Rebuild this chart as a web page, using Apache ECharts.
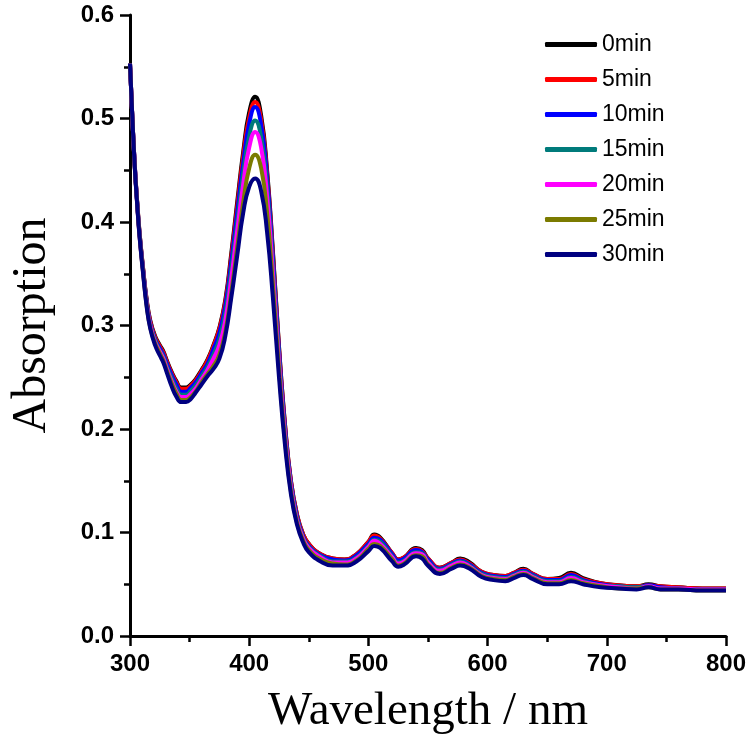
<!DOCTYPE html>
<html>
<head>
<meta charset="utf-8">
<script src="https://cdn.jsdelivr.net/npm/echarts@6/dist/echarts.min.js"></script>
<style>
  html, body { margin: 0; padding: 0; background: #fff; }
  #chart { width: 749px; height: 747px; }
</style>
</head>
<body>
<div id="chart"></div>
<script>
// wavelength (nm) sample points
var wavelength = [300,302,304,306,308,311,314,317,321,325,328,331,335,339,343,347,351,355,
  360,365,370,375,380,385,390,395,400,405,410,415,420,425,430,435,440,445,450,460,470,480,490,500,505,510,520,525,530,540,545,550,560,570,577,585,595,605,615,622,630,638,650,660,670,680,695,710,725,735,745,760,780,800];

var seriesNames = ['0min','5min','10min','15min','20min','25min','30min'];
var seriesColors = ['#000000','#ff0000','#0000ff','#007b7b','#ff00ff','#7b7b00','#000080'];

// absorption, one array per time
var abs0 = [.553,.50,.455,.42,.39,.355,.325,.305,.29,.281,.275,.266,.255,.246,.240,.240,.243,.248,
  .257,.267,.281,.298,.325,.37,.42,.468,.506,.521,.503,.45,.37,.28,.205,.15,.118,.099,.089,.079,.075,.074,.079,.091,.098,.095,.080,.074,.076,.085,.083,.075,.066,.071,.075,.071,.062,.059,.058,.061,.065,.060,.055,.056,.061,.056,.051,.049,.048,.050,.048,.047,.046,.046];
var abs5 = [.553,.50,.455,.42,.39,.355,.324,.304,.289,.280,.274,.265,.254,.245,.239,.239,.242,.247,
  .256,.266,.280,.297,.323,.367,.416,.464,.501,.516,.499,.447,.368,.279,.205,.150,.118,.099,.089,.079,.075,.074,.079,.091,.097,.094,.080,.074,.076,.084,.082,.075,.066,.071,.074,.070,.062,.059,.058,.061,.064,.060,.055,.055,.060,.055,.051,.049,.048,.049,.048,.047,.046,.046];
var abs10 = [.553,.50,.455,.419,.389,.354,.323,.302,.287,.278,.272,.263,.252,.243,.236,.236,.240,.245,
  .254,.263,.277,.293,.319,.362,.410,.457,.495,.511,.494,.443,.364,.276,.202,.148,.116,.097,.087,.078,.074,.073,.078,.089,.095,.093,.079,.073,.075,.083,.081,.074,.065,.070,.073,.069,.061,.058,.057,.060,.063,.059,.054,.054,.059,.054,.050,.048,.047,.049,.047,.046,.045,.045];
var abs15 = [.553,.50,.454,.419,.388,.353,.322,.301,.286,.276,.270,.260,.249,.239,.233,.233,.237,.242,
  .251,.260,.272,.287,.312,.354,.400,.447,.483,.498,.482,.434,.356,.270,.198,.146,.114,.096,.086,.077,.072,.072,.076,.087,.093,.091,.077,.071,.073,.081,.080,.072,.064,.069,.072,.068,.060,.057,.056,.059,.062,.058,.053,.053,.057,.053,.049,.048,.047,.048,.046,.046,.045,.045];
var abs20 = [.553,.50,.454,.418,.387,.352,.321,.300,.284,.275,.268,.258,.246,.236,.231,.231,.234,.239,
  .248,.257,.268,.281,.305,.346,.392,.437,.472,.487,.472,.425,.349,.265,.195,.144,.112,.095,.085,.076,.071,.071,.075,.086,.092,.089,.076,.070,.072,.080,.079,.071,.063,.068,.071,.067,.059,.056,.055,.058,.061,.057,.052,.052,.056,.052,.049,.047,.046,.048,.046,.046,.045,.045];
var abs25 = [.553,.50,.453,.418,.387,.351,.319,.298,.283,.273,.266,.256,.244,.234,.228,.228,.231,.236,
  .245,.253,.261,.272,.294,.332,.376,.419,.452,.465,.452,.409,.338,.258,.190,.140,.110,.093,.083,.074,.070,.069,.073,.084,.089,.087,.074,.068,.070,.078,.077,.069,.061,.066,.069,.066,.058,.055,.054,.057,.060,.056,.051,.051,.054,.051,.048,.046,.046,.047,.045,.045,.044,.044];
var abs30 = [.553,.50,.453,.417,.386,.350,.318,.297,.281,.271,.264,.254,.241,.231,.226,.226,.229,.235,
  .243,.251,.258,.268,.290,.327,.368,.409,.434,.442,.430,.390,.325,.250,.185,.137,.108,.091,.081,.072,.068,.068,.072,.082,.087,.085,.072,.067,.069,.077,.075,.068,.060,.065,.068,.065,.057,.054,.053,.056,.059,.055,.050,.050,.053,.050,.047,.046,.045,.047,.045,.045,.044,.044];

var allAbs = [abs0, abs5, abs10, abs15, abs20, abs25, abs30];

var chart = echarts.init(document.getElementById('chart'));

var tickFont = 'Liberation Sans Narrow, Arial Narrow, Arial, sans-serif';
var titleFont = 'Liberation Serif, Times New Roman, serif';

var series = seriesNames.map(function (name, i) {
  return {
    name: name,
    type: 'line',
    smooth: true,
    symbol: 'none',
    color: seriesColors[i],
    lineStyle: { width: 4, color: seriesColors[i] },
    data: wavelength.map(function (w, j) { return [w, allAbs[i][j]]; })
  };
});

chart.setOption({
  animation: false,
  backgroundColor: '#fff',
  grid: { left: 117, right: 21, top: 15, bottom: 111 },
  legend: {
    orient: 'vertical',
    left: 540,
    top: 27,
    icon: 'roundRect',
    itemWidth: 52,
    itemHeight: 5,
    itemGap: 10,
    textStyle: { fontFamily: 'Liberation Sans, Arial, sans-serif', fontSize: 23, lineHeight: 25, color: '#000' },
    data: seriesNames
  },
  xAxis: {
    type: 'value',
    min: 300,
    max: 800,
    interval: 100,
    name: 'Wavelength / nm',
    nameLocation: 'middle',
    nameGap: 52,
    nameTextStyle: { fontFamily: titleFont, fontSize: 47, color: '#000' },
    axisLine: { lineStyle: { color: '#000', width: 3 } },
    axisTick: { inside: false, length: 10, lineStyle: { color: '#000', width: 2.5 } },
    minorTick: { show: true, splitNumber: 2, length: 6, lineStyle: { color: '#000', width: 2.5 } },
    axisLabel: { margin: 16, fontFamily: tickFont, fontWeight: 'bold', fontSize: 24, color: '#000' },
    splitLine: { show: false }
  },
  yAxis: {
    type: 'value',
    min: 0,
    max: 0.6,
    interval: 0.1,
    name: 'Absorption',
    nameLocation: 'middle',
    nameGap: 74,
    nameRotate: 90,
    nameTextStyle: { fontFamily: titleFont, fontSize: 48, color: '#000' },
    axisLine: { show: true, lineStyle: { color: '#000', width: 3 } },
    axisTick: { show: true, inside: false, length: 10, lineStyle: { color: '#000', width: 2.5 } },
    minorTick: { show: true, splitNumber: 2, length: 6, lineStyle: { color: '#000', width: 2.5 } },
    axisLabel: { margin: 16, fontFamily: tickFont, fontWeight: 'bold', fontSize: 24, color: '#000',
      formatter: function (v) { return v.toFixed(1); } },
    splitLine: { show: false }
  },
  series: series
});
</script>
</body>
</html>
